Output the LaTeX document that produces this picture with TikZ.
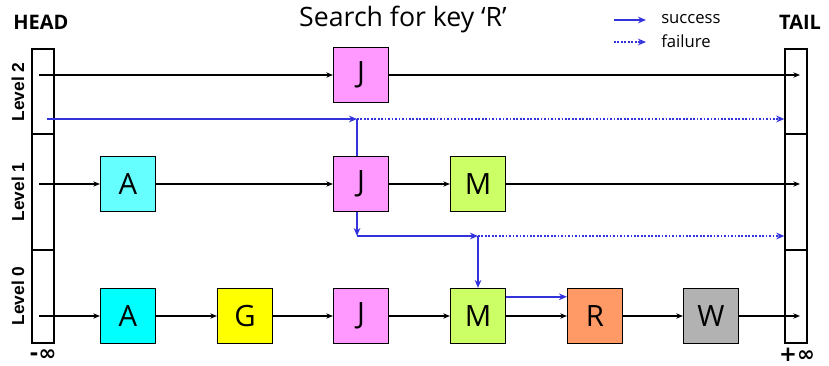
\documentclass[tikz,border=0pt]{standalone}
\usepackage{fontspec}
\setmainfont{Open Sans}
\setsansfont{Liberation Sans}
\newfontfamily\symfont{DejaVu Sans}
\usetikzlibrary{
  arrows.meta,
  positioning,
  backgrounds
}
\definecolor{keycyan}{HTML}{66FFFF}
\definecolor{keyaqua}{HTML}{00FFFF}
\definecolor{keyyellow}{HTML}{FFFF00}
\definecolor{keypink}{HTML}{FF99FF}
\definecolor{keylime}{HTML}{CCFF66}
\definecolor{keyorange}{HTML}{FF9966}
\definecolor{keygray}{HTML}{B2B2B2}
\definecolor{searchblue}{RGB}{51,51,221}
\tikzset{
  key/.style={draw, line width=1.1pt, minimum size=41pt, inner sep=0pt,
              font=\fontsize{22}{22}\selectfont},
  cell/.style={draw, line width=1pt, minimum width=16.5pt, inner sep=0pt},
  link/.style={-{Stealth[length=5pt,width=4pt]}, line width=0.9pt},
  hit/.style={draw=searchblue, line width=1.2pt, -{Stealth[length=6pt,width=5pt]}},
  miss/.style={hit, dash pattern=on 1.3pt off 1.3pt},
  lvl/.style={font=\sffamily\bfseries\fontsize{13}{13}\selectfont, rotate=90}
}
\begin{document}
\begin{tikzpicture}[x=0.75pt, y=-0.75pt]
        \useasboundingbox (0,0) rectangle (829,366);
        % head and tail columns
        \node[cell, minimum height=63.75pt] (head2) at (43, 91.5) {};
        \node[cell, minimum height=87pt]    (head1) at (43, 192) {};
        \node[cell, minimum height=69.75pt] (head0) at (43, 296.5) {};
        \node[cell, minimum height=63.75pt] (tail2) at (796, 91.5) {};
        \node[cell, minimum height=87pt]    (tail1) at (796, 192) {};
        \node[cell, minimum height=69.75pt] (tail0) at (796, 296.5) {};
        \node[lvl] (lab2) at (18, 92)  {Level 2};
        \node[lvl] (lab1) at (18, 192) {Level 1};
        \node[lvl] (lab0) at (18, 296) {Level 0};
        \node[font=\bfseries\fontsize{15}{15}\selectfont] (head) at (41, 22)  {HEAD};
        \node[font=\bfseries\fontsize{15}{15}\selectfont] (tail) at (800, 22) {TAIL};
        \node[font=\symfont\bfseries\fontsize{16}{16}\selectfont] (minf) at (43, 355)  {-∞};
        \node[font=\symfont\bfseries\fontsize{16}{16}\selectfont] (pinf) at (797, 355) {+∞};
        \node[font=\fontsize{20}{20}\selectfont] (title) at (403, 20) {Search for key ‘R’};
        % keys
        \node[key, fill=keypink]   (J2) at (361, 75)  {J};
        \node[key, fill=keycyan]   (A1) at (128, 184) {A};
        \node[key, fill=keypink]   (J1) at (361, 184) {J};
        \node[key, fill=keylime]   (M1) at (478, 184) {M};
        \node[key, fill=keyaqua]   (A0) at (128, 316) {A};
        \node[key, fill=keyyellow] (G0) at (245, 316) {G};
        \node[key, fill=keypink]   (J0) at (361, 316) {J};
        \node[key, fill=keylime]   (M0) at (478, 316) {M};
        \node[key, fill=keyorange] (R0) at (595, 316) {R};
        \node[key, fill=keygray]   (W0) at (711, 316) {W};
        % level links
        \coordinate (h2) at (39, 75);
        \coordinate (h1) at (39, 184);
        \coordinate (h0) at (39, 316);
        \coordinate (t2) at (800, 75);
        \coordinate (t1) at (800, 184);
        \coordinate (t0) at (800, 316);
        \draw[link] (h2) -- (J2);
        \draw[link] (J2) -- (t2);
        \draw[link] (h1) -- (A1);
        \draw[link] (A1) -- (J1);
        \draw[link] (J1) -- (M1);
        \draw[link] (M1) -- (t1);
        \draw[link] (h0) -- (A0);
        \draw[link] (A0) -- (G0);
        \draw[link] (G0) -- (J0);
        \draw[link] (J0) -- (M0);
        \draw[link] (M0) -- (R0);
        \draw[link] (R0) -- (W0);
        \draw[link] (W0) -- (t0);
        % search path
        \coordinate (s0) at (47, 119);
        \coordinate (c1) at (357, 119);
        \coordinate (c2) at (357, 236);
        \coordinate (c3) at (478, 236);
        \draw[hit]  (s0) -- (c1);
        \draw[miss] (c1) -- (tail2.west |- c1);
        \begin{scope}[on background layer]
          \draw[hit] (c1) -- (c2);
        \end{scope}
        \draw[hit]  (c2) -- (c3);
        \draw[miss] (c3) -- (tail1.west |- c3);
        \draw[hit]  (c3) -- (M0.north);
        \draw[hit, line width=1.4pt]  ([yshift=14.4pt]M0.east) -- ([yshift=14.4pt]R0.west);
        % legend
        \coordinate (l0) at (614, 20);
        \coordinate (l1) at (646, 20);
        \coordinate (l2) at (614, 42);
        \coordinate (l3) at (646, 42);
        \draw[hit]  (l0) -- (l1);
        \draw[miss] (l2) -- (l3);
        \node[anchor=west, inner sep=0pt, font=\fontsize{12.5}{12.5}\selectfont] (succ) at (661, 19) {success};
        \node[anchor=west, inner sep=0pt, font=\fontsize{12.5}{12.5}\selectfont] (fail) at (661, 41) {failure};
\end{tikzpicture}
\end{document}
